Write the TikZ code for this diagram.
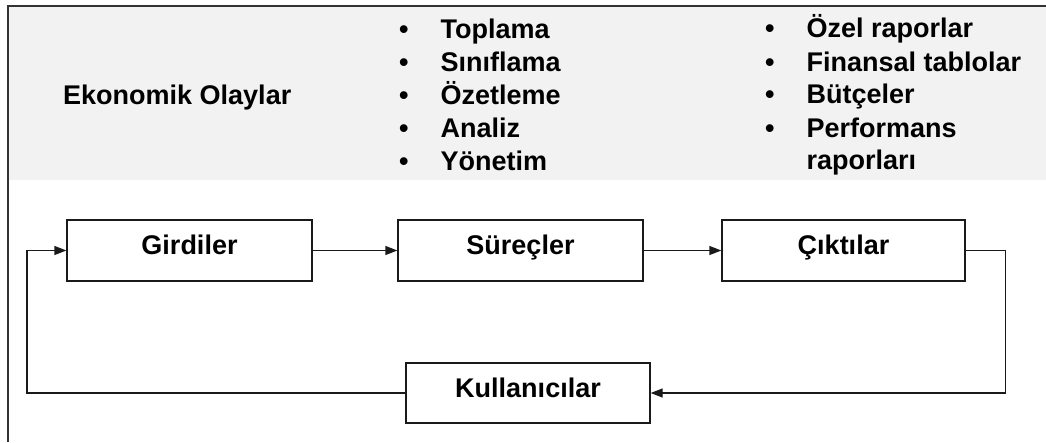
\documentclass[tikz,border=0pt]{standalone}
\usepackage{fontspec}
\setmainfont{Liberation Sans}
\usetikzlibrary{arrows.meta}
\definecolor{bandgray}{HTML}{F2F2F2}
\definecolor{framegray}{HTML}{333333}
\definecolor{ink}{HTML}{1A1A1A}
\tikzset{
  txt/.style={font=\fontsize{27}{32}\selectfont\bfseries, inner sep=0pt, anchor=base west},
  flowbox/.style={draw=ink, line width=1.3pt, minimum height=61pt, inner sep=0pt,
                  text height=19pt, text depth=11pt, font=\fontsize{27}{32}\selectfont\bfseries},
  link/.style={draw=ink, line width=1.3pt, -{Triangle[length=12pt,width=9pt]}},
  plain/.style={draw=ink, line width=1.3pt},
}
\newcommand{\bul}[1]{\makebox[41.5pt][l]{\textbullet}#1}
\begin{document}
\begin{tikzpicture}[x=1pt,y=-1pt]
  \useasboundingbox (0,0) rectangle (1046,442);
  % shaded header band and frame
  \fill[bandgray] (8,6) rectangle (1046,180);
  \draw[framegray, line width=1.5pt] (8,442) -- (8,6) -- (1046,6);

  % header texts
  \node[txt] (olay) at (63,104) {Ekonomik Olaylar};

  \node[txt] (p1) at (399,38)  {\bul{Toplama}};
  \node[txt] (p2) at (399,71)  {\bul{Sınıflama}};
  \node[txt] (p3) at (399,104) {\bul{Özetleme}};
  \node[txt] (p4) at (399,137) {\bul{Analiz}};
  \node[txt] (p5) at (399,170) {\bul{Yönetim}};

  \node[txt] (c1) at (765,37)  {\bul{Özel raporlar}};
  \node[txt] (c2) at (765,71)  {\bul{Finansal tablolar}};
  \node[txt] (c3) at (765,103) {\bul{Bütçeler}};
  \node[txt] (c4) at (765,137) {\bul{Performans}};
  \node[txt] (c5) at (806.5,169) {raporları};

  % flow boxes
  \node[flowbox, minimum width=245pt] (gir) at (189.5,250.5) {Girdiler};
  \node[flowbox, minimum width=245pt] (sur) at (520.5,250.5) {Süreçler};
  \node[flowbox, minimum width=243pt] (cik) at (843.5,250.5) {Çıktılar};
  \node[flowbox, minimum width=244pt, minimum height=60pt] (kul) at (528,393) {Kullanıcılar};

  % connectors
  \draw[link] (gir.east) -- (sur.west);
  \draw[link] (sur.east) -- (cik.west);
  \coordinate (outR) at ([xshift=40pt]cik.east);
  \draw[link] (cik.east) -- (outR) |- (kul.east);
  \coordinate (backL) at (27,393);
  \draw[link] (kul.west) -- (backL) |- (gir.west);
\end{tikzpicture}
\end{document}
